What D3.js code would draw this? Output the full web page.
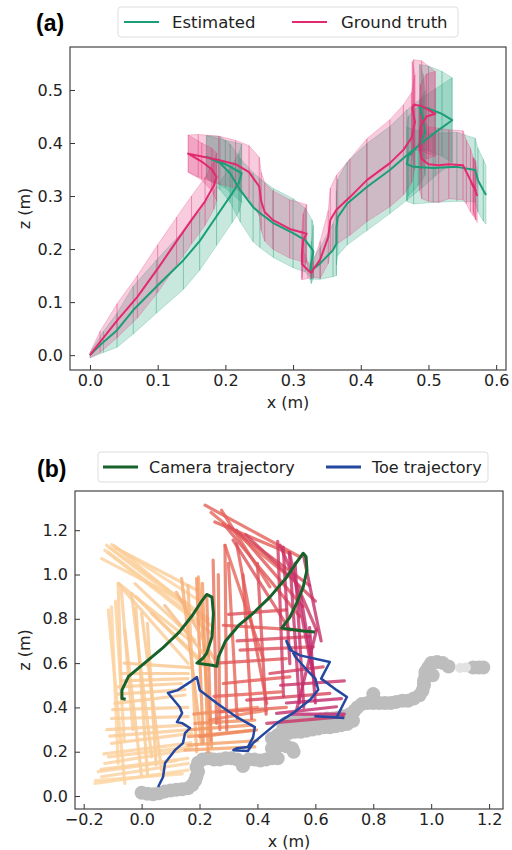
<!DOCTYPE html>
<html><head><meta charset="utf-8">
<script src="https://cdn.jsdelivr.net/npm/d3@7"></script>
<style>body{margin:0;background:#fff}svg{display:block}</style>
</head><body>
<svg id="c" width="512" height="850"></svg>
<script>
// ---------- Panel (a) data: [x, z, band half-height] ----------
const estimated = [[0,0,0.005],[0.02,0.025,0.02],[0.04,0.047,0.032],[0.064,0.085,0.045],[0.098,0.129,0.05],[0.138,0.179,0.055],[0.162,0.215,0.055],[0.187,0.262,0.055],[0.21,0.305,0.055],[0.22,0.325,0.055],[0.224,0.343,0.055],[0.2,0.36,0.045],[0.172,0.374,0.04],[0.192,0.362,0.05],[0.207,0.343,0.055],[0.222,0.311,0.06],[0.241,0.279,0.065],[0.251,0.268,0.065],[0.271,0.249,0.065],[0.30,0.23,0.065],[0.318,0.217,0.06],[0.328,0.2,0.055],[0.33,0.195,0.05],[0.327,0.175,0.04],[0.325,0.158,0.015],[0.34,0.173,0.03],[0.359,0.198,0.05],[0.364,0.21,0.06],[0.364,0.24,0.07],[0.366,0.26,0.072],[0.38,0.286,0.078],[0.409,0.317,0.082],[0.443,0.349,0.082],[0.468,0.377,0.085],[0.49,0.40,0.085],[0.51,0.42,0.082],[0.535,0.443,0.08],[0.52,0.455,0.08],[0.50,0.465,0.08],[0.487,0.468,0.08],[0.492,0.449,0.08],[0.495,0.419,0.08],[0.485,0.395,0.075],[0.47,0.375,0.075],[0.468,0.36,0.07],[0.478,0.355,0.07],[0.507,0.353,0.065],[0.542,0.355,0.065],[0.569,0.349,0.06],[0.573,0.33,0.06],[0.581,0.311,0.058],[0.585,0.302,0.055]];
const groundTruth = [[0,0,0.005],[0.015,0.025,0.02],[0.04,0.065,0.032],[0.07,0.11,0.04],[0.1,0.163,0.045],[0.128,0.215,0.045],[0.15,0.255,0.045],[0.17,0.29,0.045],[0.183,0.32,0.045],[0.187,0.336,0.045],[0.18,0.35,0.04],[0.165,0.365,0.035],[0.145,0.38,0.035],[0.16,0.376,0.04],[0.19,0.368,0.045],[0.215,0.36,0.045],[0.235,0.345,0.05],[0.25,0.318,0.055],[0.253,0.29,0.055],[0.258,0.27,0.055],[0.27,0.255,0.055],[0.295,0.238,0.055],[0.32,0.229,0.055],[0.315,0.217,0.05],[0.313,0.19,0.045],[0.313,0.172,0.03],[0.322,0.16,0.015],[0.327,0.155,0.01],[0.33,0.162,0.015],[0.34,0.18,0.035],[0.352,0.223,0.05],[0.355,0.255,0.06],[0.364,0.274,0.065],[0.384,0.298,0.072],[0.409,0.33,0.078],[0.443,0.362,0.082],[0.463,0.387,0.085],[0.475,0.41,0.085],[0.48,0.44,0.088],[0.476,0.465,0.088],[0.478,0.472,0.085],[0.49,0.47,0.085],[0.51,0.455,0.08],[0.497,0.45,0.08],[0.488,0.43,0.08],[0.487,0.39,0.08],[0.49,0.37,0.075],[0.50,0.36,0.07],[0.515,0.358,0.07],[0.53,0.36,0.065],[0.551,0.358,0.065],[0.556,0.345,0.06],[0.562,0.33,0.06],[0.566,0.318,0.055],[0.57,0.31,0.055],[0.566,0.322,0.05],[0.572,0.3,0.05]];
const xTicksA = [0.0,0.1,0.2,0.3,0.4,0.5,0.6];
const zTicksA = [0.0,0.1,0.2,0.3,0.4,0.5];
const legendA = ["Estimated","Ground truth"];

// ---------- Panel (b) data ----------
const cameraTraj = [[-0.055,0.437],[-0.068,0.44],[-0.068,0.478],[-0.045,0.54],[0.01,0.60],[0.07,0.665],[0.13,0.74],[0.175,0.815],[0.205,0.875],[0.225,0.91],[0.243,0.898],[0.248,0.825],[0.243,0.718],[0.225,0.645],[0.212,0.622],[0.191,0.60],[0.243,0.59],[0.26,0.586],[0.265,0.627],[0.29,0.70],[0.335,0.77],[0.385,0.825],[0.443,0.898],[0.501,0.988],[0.535,1.055],[0.558,1.096],[0.568,1.08],[0.571,1.02],[0.558,0.943],[0.535,0.87],[0.512,0.807],[0.484,0.758],[0.512,0.753],[0.558,0.745],[0.599,0.74]];
const toeTraj = [[0.057,0.041],[0.074,0.086],[0.081,0.149],[0.115,0.207],[0.143,0.239],[0.15,0.284],[0.167,0.307],[0.14,0.329],[0.122,0.334],[0.14,0.374],[0.132,0.401],[0.091,0.465],[0.125,0.478],[0.167,0.514],[0.191,0.537],[0.201,0.478],[0.26,0.419],[0.329,0.356],[0.391,0.311],[0.385,0.266],[0.367,0.221],[0.329,0.216],[0.317,0.207],[0.367,0.203],[0.385,0.239],[0.409,0.266],[0.467,0.329],[0.523,0.374],[0.581,0.433],[0.61,0.48],[0.60,0.53],[0.57,0.57],[0.53,0.63],[0.50,0.70],[0.512,0.66],[0.547,0.635],[0.65,0.605],[0.62,0.53],[0.674,0.478],[0.709,0.447],[0.674,0.356],[0.60,0.36],[0.70,0.352]];
// leg links: [x1, z1, x2, z2, time fraction]
const legSegments = [
 [-0.121,1.132,0.23,0.80,0.08],[-0.104,1.135,0.207,0.876,0.05],[-0.138,1.072,0.15,0.876,0.1],[-0.127,1.11,0.242,0.734,0.12],[-0.09,1.12,0.19,0.93,0.15],
 [-0.11,1.12,0.17,0.84,0.07],[-0.115,1.1,0.2,0.79,0.1],[-0.095,1.13,0.25,0.76,0.13],[-0.08,0.96,0.17,0.70,0.17],[-0.02,0.90,0.23,0.57,0.22],
 [-0.081,0.959,0.161,0.598,0.18],[-0.023,0.959,0.184,0.704,0.2],[0.035,0.824,0.219,0.598,0.25],[-0.081,0.959,-0.069,0.433,0.15],[-0.115,0.839,-0.058,0.057,0.1],
 [-0.104,0.854,-0.081,0.147,0.05],[-0.058,0.749,0.0,0.087,0.2],[-0.035,0.914,0.035,0.177,0.22],[0.0,0.824,0.069,0.117,0.25],
 [-0.09,0.88,-0.06,0.25,0.12],[-0.07,0.93,-0.03,0.3,0.18],[-0.02,0.85,0.02,0.1,0.24],[0.02,0.78,0.05,0.14,0.28],
 [-0.161,0.057,0.161,0.117,0.05],[-0.127,0.147,0.15,0.207,0.1],[-0.138,0.087,0.161,0.147,0.08],[-0.104,0.238,0.173,0.283,0.15],[-0.104,0.35,0.161,0.358,0.18],
 [-0.092,0.418,0.15,0.456,0.2],[-0.081,0.493,0.138,0.508,0.22],[-0.069,0.553,0.161,0.553,0.25],[-0.115,0.177,0.173,0.222,0.12],[-0.15,0.11,0.12,0.16,0.06],
 [-0.12,0.3,0.15,0.32,0.16],[-0.16,0.07,0.14,0.1,0.04],[-0.14,0.12,0.16,0.17,0.09],[-0.13,0.19,0.17,0.24,0.13],[-0.11,0.27,0.17,0.3,0.16],
 [-0.1,0.39,0.16,0.4,0.19],[-0.08,0.46,0.15,0.48,0.21],[-0.07,0.52,0.16,0.53,0.24],[-0.06,0.6,0.17,0.58,0.27],
 [0.138,0.982,0.207,0.238,0.4],[0.196,0.989,0.242,0.222,0.45],[0.19,0.982,0.213,0.238,0.5],[0.16,0.95,0.19,0.2,0.35],[0.21,0.96,0.23,0.2,0.48],[0.225,0.9,0.24,0.25,0.55],
 [0.08,0.86,0.24,0.6,0.33],[0.12,0.92,0.25,0.62,0.38],
 [0.15,0.207,0.391,0.222,0.45],[0.161,0.268,0.391,0.298,0.5],[0.184,0.328,0.391,0.343,0.52],[0.2,0.268,0.397,0.298,0.55],[0.236,0.343,0.432,0.388,0.58],
 [0.16,0.23,0.4,0.25,0.47],[0.17,0.3,0.38,0.32,0.5],[0.18,0.37,0.4,0.4,0.53],
 [0.247,1.065,0.259,0.328,0.62],[0.288,1.132,0.294,0.298,0.65],[0.288,1.132,0.42,0.62,0.66],[0.328,1.14,0.432,0.418,0.7],[0.219,1.313,0.547,1.079,0.68],
 [0.253,1.237,0.512,1.095,0.7],[0.276,1.29,0.443,0.944,0.68],[0.328,1.2,0.558,0.854,0.72],[0.282,1.23,0.547,0.809,0.72],[0.316,1.155,0.512,0.749,0.74],
 [0.265,1.0,0.27,0.3,0.6],[0.3,1.05,0.33,0.35,0.66],[0.35,1.0,0.38,0.35,0.7],[0.4,1.05,0.43,0.37,0.74],
 [0.24,1.28,0.5,1.0,0.66],[0.3,1.22,0.58,0.95,0.76],[0.36,1.18,0.6,0.88,0.8],
 [0.282,0.771,0.547,0.749,0.7],[0.34,0.659,0.593,0.673,0.75],[0.282,0.508,0.512,0.538,0.7],[0.363,0.433,0.65,0.463,0.8],[0.443,0.553,0.627,0.583,0.82],
 [0.25,0.45,0.48,0.47,0.68],[0.26,0.6,0.5,0.62,0.72],[0.3,0.82,0.5,0.84,0.74],[0.27,0.38,0.5,0.4,0.66],[0.33,0.7,0.58,0.72,0.78],
 [0.478,1.132,0.604,0.749,0.88],[0.489,1.124,0.512,0.598,0.9],[0.51,1.1,0.545,0.42,0.92],[0.512,1.095,0.593,0.538,0.9],[0.604,0.749,0.535,0.388,0.95],
 [0.432,0.328,0.696,0.358,0.9],[0.466,0.373,0.673,0.403,0.95],[0.56,1.08,0.62,0.7,0.93],[0.58,0.76,0.6,0.42,0.97],
 [0.47,1.15,0.49,0.45,0.86],[0.53,1.05,0.56,0.40,0.94],[0.48,0.5,0.7,0.52,0.92],[0.5,0.42,0.69,0.44,0.96],[0.52,0.37,0.7,0.37,0.98],[0.55,0.9,0.6,0.5,0.95]
];
const groundPoints = [[0.0,0.015],[0.02,0.01],[0.04,0.008],[0.06,0.012],[0.08,0.02],[0.10,0.025],[0.12,0.028],[0.14,0.03],[0.16,0.035],[0.175,0.05],[0.185,0.07],[0.19,0.09],[0.195,0.11],[0.19,0.13],[0.195,0.15],[0.21,0.165],[0.23,0.17],[0.25,0.165],[0.27,0.165],[0.29,0.17],[0.31,0.17],[0.33,0.165],[0.35,0.15],[0.35,0.135],[0.37,0.165],[0.39,0.165],[0.41,0.16],[0.43,0.165],[0.45,0.17],[0.47,0.17],[0.455,0.19],[0.45,0.215],[0.46,0.235],[0.48,0.23],[0.5,0.225],[0.52,0.215],[0.525,0.2],[0.45,0.26],[0.47,0.275],[0.49,0.28],[0.51,0.285],[0.53,0.29],[0.55,0.29],[0.57,0.295],[0.59,0.30],[0.61,0.305],[0.63,0.31],[0.65,0.31],[0.67,0.315],[0.69,0.32],[0.71,0.325],[0.73,0.34],[0.49,0.31],[0.50,0.33],[0.52,0.335],[0.54,0.335],[0.56,0.34],[0.58,0.34],[0.60,0.34],[0.62,0.345],[0.64,0.35],[0.66,0.35],[0.68,0.355],[0.70,0.36],[0.72,0.37],[0.735,0.385],[0.745,0.40],[0.76,0.415],[0.78,0.42],[0.80,0.42],[0.82,0.42],[0.84,0.42],[0.86,0.42],[0.88,0.425],[0.90,0.43],[0.92,0.43],[0.94,0.44],[0.80,0.46],[0.96,0.455],[0.97,0.475],[0.975,0.50],[0.975,0.52],[0.98,0.54],[0.98,0.56],[0.99,0.58],[1.00,0.60],[1.02,0.605],[1.04,0.60],[1.06,0.585],[1.005,0.545],[1.145,0.58],[1.165,0.58],[1.18,0.58]];
const groundPointsFaint = [[1.10,0.578],[1.12,0.58]];
const xTicksB = [-0.2,0.0,0.2,0.4,0.6,0.8,1.0,1.2];
const zTicksB = [0.0,0.2,0.4,0.6,0.8,1.0,1.2];
const legendB = ["Camera trajectory","Toe trajectory"];

// ---------- drawing ----------
const svg = d3.select("#c");
const FONT = "DejaVu Sans, sans-serif";
const fmt = d3.format(".1f");
const GREEN = "#1b9e77", PINK = "#e3296f";

function axes(g, x, y, xt, yt, box) {
  g.append("g").attr("transform", `translate(0,${box.b})`)
    .call(d3.axisBottom(x).tickValues(xt).tickFormat(fmt).tickSize(-5).tickPadding(5))
    .call(s => { s.select(".domain").remove(); s.selectAll("line").attr("stroke","#333");
      s.selectAll("text").attr("font-family",FONT).attr("font-size",16).attr("fill","#222"); });
  g.append("g").attr("transform", `translate(${box.l},0)`)
    .call(d3.axisLeft(y).tickValues(yt).tickFormat(fmt).tickSize(-5).tickPadding(7))
    .call(s => { s.select(".domain").remove(); s.selectAll("line").attr("stroke","#333");
      s.selectAll("text").attr("font-family",FONT).attr("font-size",16).attr("fill","#222"); });
  g.append("rect").attr("x",box.l).attr("y",box.t).attr("width",box.r-box.l).attr("height",box.b-box.t)
    .attr("fill","none").attr("stroke","#444").attr("stroke-width",1.2);
}
function legend(g, x0, y0, w, h, items, fs) {
  g.append("rect").attr("x",x0).attr("y",y0).attr("width",w).attr("height",h).attr("rx",3)
    .attr("fill","#fff").attr("fill-opacity",0.85).attr("stroke","#ddd");
  items.forEach(it => {
    g.append("line").attr("x1",it.lx).attr("x2",it.lx+35).attr("y1",y0+h/2).attr("y2",y0+h/2)
      .attr("stroke",it.c).attr("stroke-width",it.w);
    g.append("text").attr("x",it.tx).attr("y",y0+h/2).attr("dy","0.36em").attr("font-family",FONT)
      .attr("font-size",fs).attr("fill","#222").text(it.t);
  });
}

// Panel (a)
const boxA = {l:70, r:506, t:47, b:370};
const xA = d3.scaleLinear().domain([-0.0295,0.6145]).range([boxA.l,boxA.r]);
const zA = d3.scaleLinear().domain([-0.028,0.581]).range([boxA.b,boxA.t]);
const gA = svg.append("g");
svg.append("clipPath").attr("id","clipA").append("rect")
  .attr("x",boxA.l).attr("y",boxA.t).attr("width",boxA.r-boxA.l).attr("height",boxA.b-boxA.t);
const plotA = gA.append("g").attr("clip-path","url(#clipA)");
function band(data, color) {
  const quads = d3.pairs(data).map(([p,q]) => [
    [xA(p[0]), zA(p[1]-p[2])],[xA(p[0]), zA(p[1]+p[2])],[xA(q[0]), zA(q[1]+q[2])],[xA(q[0]), zA(q[1]-q[2])]]);
  plotA.append("g").selectAll("path").data(quads).join("path")
    .attr("d", d => "M" + d.join("L") + "Z")
    .attr("fill",color).attr("fill-opacity",0.24)
    .attr("stroke",color).attr("stroke-opacity",0.3).attr("stroke-width",0.8);
}
band(estimated, GREEN);
band(groundTruth, PINK);
const lineA = d3.line().x(d=>xA(d[0])).y(d=>zA(d[1])).curve(d3.curveLinear);
plotA.append("path").attr("d",lineA(estimated)).attr("fill","none").attr("stroke",GREEN).attr("stroke-width",2).attr("stroke-linejoin","round");
plotA.append("path").attr("d",lineA(groundTruth)).attr("fill","none").attr("stroke",PINK).attr("stroke-width",2).attr("stroke-linejoin","round");
axes(gA, xA, zA, xTicksA, zTicksA, boxA);
gA.append("text").attr("x",(boxA.l+boxA.r)/2).attr("y",408).attr("text-anchor","middle")
  .attr("font-family",FONT).attr("font-size",16).attr("fill","#222").text("x (m)");
gA.append("text").attr("transform",`translate(30,${(boxA.t+boxA.b)/2}) rotate(-90)`).attr("text-anchor","middle")
  .attr("font-family",FONT).attr("font-size",16).attr("fill","#222").text("z (m)");
legend(gA, 118, 7, 340, 30, [
  {lx:124, tx:172, c:GREEN, w:2, t:legendA[0]},
  {lx:292, tx:341, c:PINK, w:2, t:legendA[1]}], 16.5);
gA.append("text").attr("x",36).attr("y",31).attr("font-family","Liberation Sans, Arial, sans-serif")
  .attr("font-weight","bold").attr("font-size",23).attr("fill","#000").text("(a)");

// Panel (b)
const boxB = {l:75, r:503, t:491, b:809};
const xB = d3.scaleLinear().domain([-0.230,1.248]).range([boxB.l,boxB.r]);
const zB = d3.scaleLinear().domain([-0.0586,1.377]).range([boxB.b,boxB.t]);
const gB = svg.append("g");
svg.append("clipPath").attr("id","clipB").append("rect")
  .attr("x",boxB.l).attr("y",boxB.t).attr("width",boxB.r-boxB.l).attr("height",boxB.b-boxB.t);
const plotB = gB.append("g").attr("clip-path","url(#clipB)");
plotB.append("g").selectAll("circle").data(groundPoints).join("circle")
  .attr("cx",d=>xB(d[0])).attr("cy",d=>zB(d[1])).attr("r",7).attr("fill","#bdbdbd");
plotB.append("g").selectAll("circle").data(groundPointsFaint).join("circle")
  .attr("cx",d=>xB(d[0])).attr("cy",d=>zB(d[1])).attr("r",5).attr("fill","#e2e2e2");
const legColor = d3.scaleLinear().domain([0,0.3,0.5,0.7,0.85,1])
  .range(["#fcd6a4","#f9c48c","#f3965f","#e35a58","#d03d62","#bd2470"]).interpolate(d3.interpolateRgb);
plotB.append("g").selectAll("line").data(legSegments).join("line")
  .attr("x1",d=>xB(d[0])).attr("y1",d=>zB(d[1])).attr("x2",d=>xB(d[2])).attr("y2",d=>zB(d[3]))
  .attr("stroke",d=>legColor(d[4])).attr("stroke-opacity",0.8).attr("stroke-width",3.2).attr("stroke-linecap","round");
const lineB = d3.line().x(d=>xB(d[0])).y(d=>zB(d[1])).curve(d3.curveLinear);
plotB.append("path").attr("d",lineB(cameraTraj)).attr("fill","none").attr("stroke","#17622b").attr("stroke-width",3).attr("stroke-linejoin","round");
plotB.append("path").attr("d",lineB(toeTraj)).attr("fill","none").attr("stroke","#2447a0").attr("stroke-width",2.5).attr("stroke-linejoin","round");
axes(gB, xB, zB, xTicksB, zTicksB, boxB);
gB.append("text").attr("x",(boxB.l+boxB.r)/2).attr("y",847).attr("text-anchor","middle")
  .attr("font-family",FONT).attr("font-size",16).attr("fill","#222").text("x (m)");
gB.append("text").attr("transform",`translate(30,${(boxB.t+boxB.b)/2}) rotate(-90)`).attr("text-anchor","middle")
  .attr("font-family",FONT).attr("font-size",16).attr("fill","#222").text("z (m)");
legend(gB, 98, 452, 390, 30, [
  {lx:103, tx:149, c:"#17622b", w:3, t:legendB[0]},
  {lx:326, tx:372, c:"#2447a0", w:3, t:legendB[1]}], 16);
gB.append("text").attr("x",37).attr("y",477).attr("font-family","Liberation Sans, Arial, sans-serif")
  .attr("font-weight","bold").attr("font-size",23).attr("fill","#000").text("(b)");
</script>
</body></html>
